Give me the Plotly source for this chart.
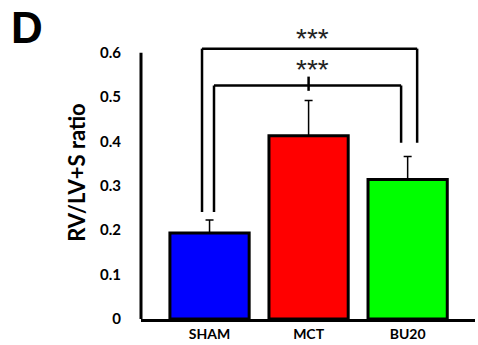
import plotly.graph_objects as go

categories = ["SHAM", "MCT", "BU20"]
means = [0.194, 0.413, 0.314]
errors = [0.029, 0.079, 0.052]
colors = ["#0000FF", "#FF0000", "#00FF00"]
ytick_vals = [0, 0.1, 0.2, 0.3, 0.4, 0.5, 0.6]
ytick_text = ["0", "0.1", "0.2", "0.3", "0.4", "0.5", "0.6"]

# significance brackets (data units)
outer_top = 0.609
inner_top = 0.526
leg_left_bottom = 0.241
leg_right_bottom = 0.397
sig_label = "***"

xpos = list(range(len(categories)))

fig = go.Figure()
fig.add_trace(go.Bar(
    x=xpos, y=means, width=0.8,
    marker=dict(color=colors, line=dict(color="black", width=3)),
    error_y=dict(type="data", array=errors, arrayminus=[0]*3, symmetric=False,
                 color="black", thickness=1.5, width=4),
    showlegend=False,
))

black = dict(color="black", width=2.5)
shapes = []
# y axis line
shapes.append(dict(type="line", xref="paper", yref="y", x0=0, x1=0, y0=0, y1=0.6,
                   line=dict(color="black", width=3)))
# outer bracket SHAM - BU20
ox0, ox1 = xpos[0] - 0.076, xpos[2] + 0.096
shapes += [
    dict(type="line", x0=ox0, x1=ox0, y0=leg_left_bottom, y1=outer_top, line=black),
    dict(type="line", x0=ox0, x1=ox1, y0=outer_top, y1=outer_top, line=black),
    dict(type="line", x0=ox1, x1=ox1, y0=outer_top, y1=leg_right_bottom, line=black),
]
ix0, ix1 = xpos[0] + 0.045, xpos[2] - 0.066
shapes += [
    dict(type="line", x0=ix0, x1=ix0, y0=leg_left_bottom, y1=inner_top, line=black),
    dict(type="line", x0=ix0, x1=ix1, y0=inner_top, y1=inner_top, line=black),
    dict(type="line", x0=ix1, x1=ix1, y0=inner_top, y1=leg_right_bottom, line=black),
    dict(type="line", x0=xpos[1], x1=xpos[1], y0=inner_top - 0.012, y1=inner_top + 0.02, line=black),
]
for s in shapes:
    s.setdefault("xref", "x")
    s.setdefault("yref", "y")
fig.update_layout(shapes=shapes)

fig.add_annotation(x=xpos[1] + 0.04, y=outer_top + 0.022, text=sig_label, showarrow=False,
                   font=dict(size=28, color="#222", family="Liberation Sans"))
fig.add_annotation(x=xpos[1] + 0.04, y=inner_top + 0.035, text=sig_label, showarrow=False,
                   font=dict(size=28, color="#222", family="Liberation Sans"))
fig.add_annotation(xref="paper", yref="paper", x=-0.395, y=1.085, xanchor="left", yanchor="top",
                   text="<b>D</b>", showarrow=False,
                   font=dict(size=44, color="black", family="Liberation Sans"))

fig.update_layout(
    width=478, height=345,
    margin=dict(l=141, r=3, t=26, b=26),
    plot_bgcolor="white", paper_bgcolor="white",
    bargap=0.2,
    xaxis=dict(range=[-0.692, 2.68], tickvals=xpos, ticktext=categories,
               showline=True, linecolor="black", linewidth=3, showgrid=False,
               ticks="", tickfont=dict(family="Lato", size=14, color="black", weight="bold"),
               zeroline=False, fixedrange=True),
    yaxis=dict(range=[0, 0.66], tickvals=ytick_vals, ticktext=ytick_text,
               showline=False, showgrid=False, zeroline=False,
               ticks="outside", ticklen=16, tickcolor="rgba(0,0,0,0)",
               tickfont=dict(family="Lato", size=15, color="black", weight="bold"),
               title=dict(text="RV/LV+S ratio", standoff=8,
                          font=dict(family="Lato", size=22, color="black", weight="bold"))),
)

fig.write_html("out.html")
